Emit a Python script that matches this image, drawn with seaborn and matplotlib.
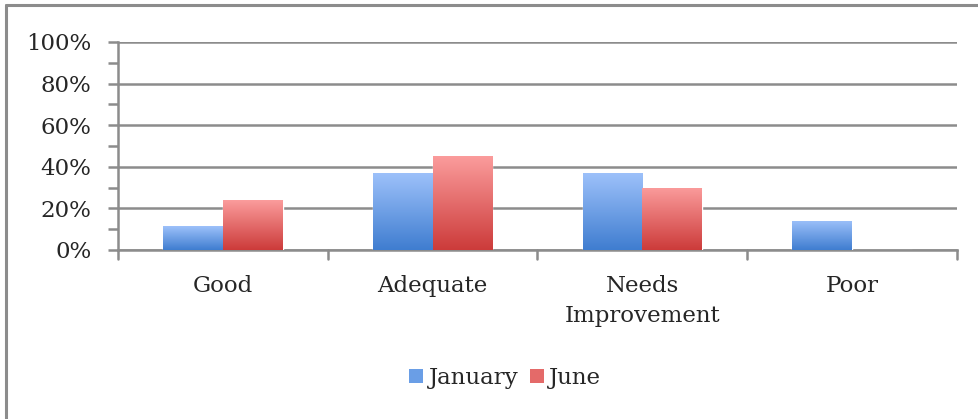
import numpy as np
import pandas as pd
import matplotlib
matplotlib.use("Agg")
import matplotlib.pyplot as plt
import seaborn as sns
from matplotlib.colors import LinearSegmentedColormap
from matplotlib.lines import Line2D
from matplotlib.patches import Patch

categories = ["Good", "Adequate", "Needs\nImprovement", "Poor"]
january = [11.5, 37, 37, 14]
june = [24, 45, 30, 0]
series = ["January", "June"]

df = pd.DataFrame({
    "category": categories * 2,
    "month": ["January"] * 4 + ["June"] * 4,
    "value": january + june,
})

# gradient colours (top -> bottom)
grad = {
    "January": ("#9dc1fa", "#3f7dd0"),
    "June": ("#fb9c9c", "#cc3b3a"),
}
flat = {"January": "#6a9ee6", "June": "#e46a69"}

sns.set_style("white")
plt.rcParams["font.family"] = ["DejaVu Serif"]
FS = 16.5

fig = plt.figure(figsize=(9.79, 4.19), dpi=100)
ax = fig.add_axes([118 / 979, 1 - 250 / 419, (957 - 118) / 979, 208 / 419])

sns.barplot(data=df, x="category", y="value", hue="month", order=categories,
            hue_order=series, palette=flat, width=0.57, gap=0, ax=ax,
            legend=False, saturation=1)

# gradient fill over each bar
for patch, month in zip(ax.patches, ["January"] * 4 + ["June"] * 4):
    x0, y0 = patch.get_x(), patch.get_y()
    w, h = patch.get_width(), patch.get_height()
    if h <= 0:
        continue
    cmap = LinearSegmentedColormap.from_list("g", [grad[month][1], grad[month][0]])
    img = ax.imshow(np.linspace(0, 1, 256).reshape(-1, 1), cmap=cmap,
                    extent=[x0, x0 + w, y0, y0 + h], origin="lower",
                    aspect="auto", zorder=3, interpolation="bilinear")
    img.set_clip_path(patch)
    patch.set_zorder(3)
ax.set_xlim(-0.5, len(categories) - 0.5)
ax.set_ylim(0, 100)

ax.set_yticks(range(0, 101, 20))
ax.set_yticklabels([f"{v}%" for v in range(0, 101, 20)])
ax.set_yticks(range(10, 100, 20), minor=True)
ax.yaxis.grid(True, color="#8c8c8c", linewidth=1.8, zorder=0)
ax.set_axisbelow(True)

ax.set_xticks(np.arange(len(categories)))
ax.set_xticklabels(categories, linespacing=1.45)
ax.tick_params(axis="x", length=0, pad=18, labelsize=FS)
ax.tick_params(axis="y", which="both", length=7, width=1.8, color="#8c8c8c",
               labelsize=FS, left=True, pad=12)
# boundary ticks on x axis
for xb in np.arange(-0.5, len(categories), 1.0):
    ax.plot([xb, xb], [0, -4.5], color="#8c8c8c", linewidth=1.8,
            clip_on=False, zorder=1)

ax.set_xlabel("")
ax.set_ylabel("")
for side in ["top", "right"]:
    ax.spines[side].set_visible(False)
for side in ["left", "bottom"]:
    ax.spines[side].set_color("#8c8c8c")
    ax.spines[side].set_linewidth(1.8)

handles = [Patch(facecolor=flat[s], edgecolor="none") for s in series]
fig.legend(handles, series, loc="center", bbox_to_anchor=(0.516, 1 - 378 / 419),
           ncol=2, frameon=False, fontsize=FS, handlelength=0.6,
           handleheight=0.6, handletextpad=0.25, columnspacing=0.5)

# outer chart border (top and left visible)
fig.add_artist(Line2D([6.5 / 979, 1], [1 - 5.5 / 419, 1 - 5.5 / 419],
                      color="#8c8c8c", linewidth=2.2))
fig.add_artist(Line2D([6.5 / 979, 6.5 / 979], [0, 1 - 5.5 / 419],
                      color="#8c8c8c", linewidth=2.2))

fig.savefig("out.png", dpi=100, facecolor="white")
